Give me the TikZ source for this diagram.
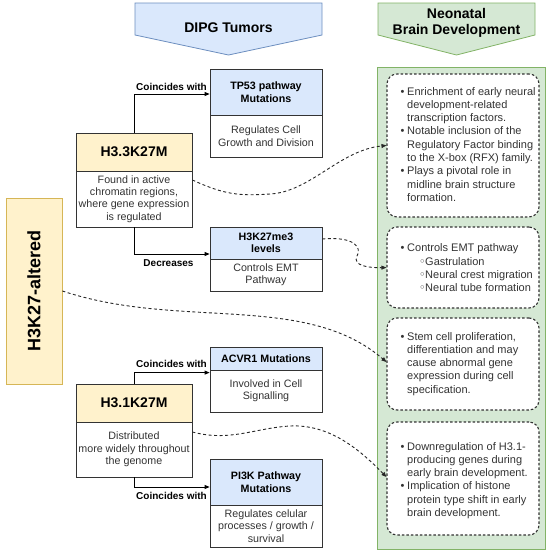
\documentclass[tikz,border=0pt]{standalone}
\usepackage{fontspec}
\setmainfont{Liberation Sans}
\newfontfamily\dejavu{DejaVu Sans}
\usetikzlibrary{arrows.meta,calc}
\definecolor{bluef}{HTML}{DAE8FC}
\definecolor{blued}{HTML}{6C8EBF}
\definecolor{greenf}{HTML}{D5E8D4}
\definecolor{greend}{HTML}{82B366}
\definecolor{yelf}{HTML}{FFF2CC}
\definecolor{yeld}{HTML}{D6B656}
\definecolor{ink}{HTML}{333333}
\newcommand{\bul}{\makebox[6.5pt][l]{•}}
\newcommand{\sbul}{\hspace{12pt}\makebox[6pt][l]{\dejavu ◦}}
\begin{document}
\begin{tikzpicture}[x=1pt,y=-1pt,
  box/.style={draw=ink, line width=0.8pt, inner sep=0pt, align=center, text=ink,
    font=\fontsize{10.7}{12.4}\selectfont},
  hdrb/.style={box, fill=bluef, text=black, font=\bfseries\fontsize{10.7}{12.4}\selectfont},
  bodyb/.style={box, fill=white},
  hdry/.style={box, fill=yelf, text=black, minimum width=116pt, minimum height=38pt,
    font=\bfseries\fontsize{14}{16}\selectfont},
  dbox/.style={draw=ink, line width=1.1pt, dash pattern=on 2.5pt off 2pt, rounded corners=10pt,
    fill=white, minimum width=152pt, inner sep=0pt},
  lst/.style={inner sep=0pt, text=ink, font=\fontsize{11}{13.3}\selectfont, anchor=base west},
  lbl/.style={inner sep=0pt, text=black, font=\bfseries\fontsize{10}{12}\selectfont},
  arr/.style={draw=black, line width=0.8pt, -{Triangle[length=5pt,width=4pt]}},
  dcurve/.style={draw=black!85, line width=0.9pt, dash pattern=on 3pt off 2.5pt,
    -{Triangle[length=5pt,width=4pt]}},
  ttl/.style={inner sep=0pt, text=black, align=center, font=\bfseries\fontsize{14}{16.5}\selectfont}
]
\useasboundingbox (0,0) rectangle (550,552);

% pentagon headers
\draw[fill=bluef, draw=blued, line width=0.8pt] (135,3) -- (322,3) -- (322,35) -- (228.5,55) -- (135,35) -- cycle;
\node[ttl] (dipg) at (228.5,28) {DIPG Tumors};
\draw[fill=greenf, draw=greend, line width=0.8pt] (378,3) -- (535,3) -- (535,35) -- (456.5,55) -- (378,35) -- cycle;
\node[ttl] (neot) at (456.5,23) {Neonatal\\Brain Development};

% green column
\node[draw=greend, fill=greenf, line width=0.8pt, minimum width=168pt, minimum height=482pt, inner sep=0pt] (neo) at (461,308) {};

% dotted boxes
\node[dbox, minimum height=143pt] (b1) at (463,145.5) {};
\node[dbox, minimum height=81pt] (b2) at (463,267.5) {};
\node[dbox, minimum height=92pt] (b3) at (463,364) {};
\node[dbox, minimum height=113pt] (b4) at (463,478.5) {};

\node[lst] (t1) at (400.5,95) {\begin{tabular}[t]{@{}l@{}l@{}}
\bul & Enrichment of early neural\\
 & development-related\\
 & transcription factors.\\
\bul & Notable inclusion of the\\
 & Regulatory Factor binding\\
 & to the X-box (RFX) family.\\
\bul & Plays a pivotal role in\\
 & midline brain structure\\
 & formation.
\end{tabular}};
\node[lst] (t2) at (400.5,251.7) {\begin{tabular}[t]{@{}l@{}l@{}}
\bul & Controls EMT pathway\\
 & \sbul Gastrulation\\
 & \sbul Neural crest migration\\
 & \sbul Neural tube formation
\end{tabular}};
\node[lst] (t3) at (400.5,340) {\begin{tabular}[t]{@{}l@{}l@{}}
\bul & Stem cell proliferation,\\
 & differentiation and may\\
 & cause abnormal gene\\
 & expression during cell\\
 & specification.
\end{tabular}};
\node[lst] (t4) at (400.5,450) {\begin{tabular}[t]{@{}l@{}l@{}}
\bul & Downregulation of H3.1-\\
 & producing genes during\\
 & early brain development.\\
\bul & Implication of histone\\
 & protein type shift in early\\
 & brain development.
\end{tabular}};

% left column: H3K27-altered
\node[draw=yeld, fill=yelf, line width=0.8pt, minimum width=56pt, minimum height=186pt, inner sep=0pt] (alt) at (34,291) {};
\node[rotate=90, inner sep=0pt, text=black, font=\bfseries\fontsize{18}{20}\selectfont] (altt) at (alt.center) {H3K27-altered};

% H3.3K27M
\node[hdry] (h33h) at (134,152) {H3.3K27M};
\node[bodyb, minimum width=116pt, minimum height=56pt] (h33b) at (134,199) {Found in active\\chromatin regions,\\where gene expression\\is regulated};

% H3.1K27M
\node[hdry] (h31h) at (134,403) {H3.1K27M};
\node[bodyb, minimum width=116pt, minimum height=55pt] (h31b) at (134,449.5) {Distributed\\more widely throughout\\the genome};

% TP53
\node[hdrb, minimum width=112pt, minimum height=46pt] (tp53h) at (266,92) {TP53 pathway\\Mutations};
\node[bodyb, minimum width=112pt, minimum height=42pt] (tp53b) at (266,136) {Regulates Cell\\Growth and Division};

% H3K27me3
\node[hdrb, minimum width=112pt, minimum height=32pt] (me3h) at (266,243) {H3K27me3\\levels};
\node[bodyb, minimum width=112pt, minimum height=32pt] (me3b) at (266,275) {Controls EMT\\Pathway};

% ACVR1
\node[hdrb, minimum width=112pt, minimum height=23pt] (acvh) at (266,358.5) {ACVR1 Mutations};
\node[bodyb, minimum width=112pt, minimum height=42pt] (acvb) at (266,391) {Involved in Cell\\Signalling};

% PI3K
\node[hdrb, minimum width=112pt, minimum height=46pt] (pih) at (266,482) {PI3K Pathway\\Mutations};
\node[bodyb, minimum width=112pt, minimum height=42pt] (pib) at (266,526) {Regulates celular\\processes / growth /\\survival};

% elbow connectors
\draw[arr] (h33h.north) |- ([yshift=-2pt]tp53h.west);
\draw[arr] (h33b.south) |- ([yshift=-11pt]me3h.west);
\draw[arr] (h31h.north) |- ([yshift=-3pt]acvb.north west);
\draw[arr] (h31b.south) |- ([yshift=-5pt]pih.west);

\node[lbl, anchor=base east] (l1) at (207,90.5) {Coincides with};
\node[lbl, anchor=base] (l2) at (168.5,266.5) {Decreases};
\node[lbl, anchor=base east] (l3) at (207,367) {Coincides with};
\node[lbl, anchor=base east] (l4) at (207,499.5) {Coincides with};

% dashed curves
\draw[dcurve] ([yshift=19pt]h33b.east) .. controls (225,195) and (240,196) .. (270,194)
  .. controls (310,192) and (340,150) .. (b1.west);
\draw[dcurve] ([yshift=4pt]me3h.east) .. controls (355,236) and (362,248) .. (357,256)
  .. controls (352,266) and (370,268) .. (b2.west);
\draw[dcurve] (alt.east) .. controls (180,330) and (305,292) .. ([yshift=2pt]b3.west);
\draw[dcurve] ([yshift=17.5pt]h31b.east) .. controls (230,442) and (255,428) .. (290,426)
  .. controls (330,424) and (360,450) .. ([yshift=1.5pt]b4.west);
\end{tikzpicture}
\end{document}
